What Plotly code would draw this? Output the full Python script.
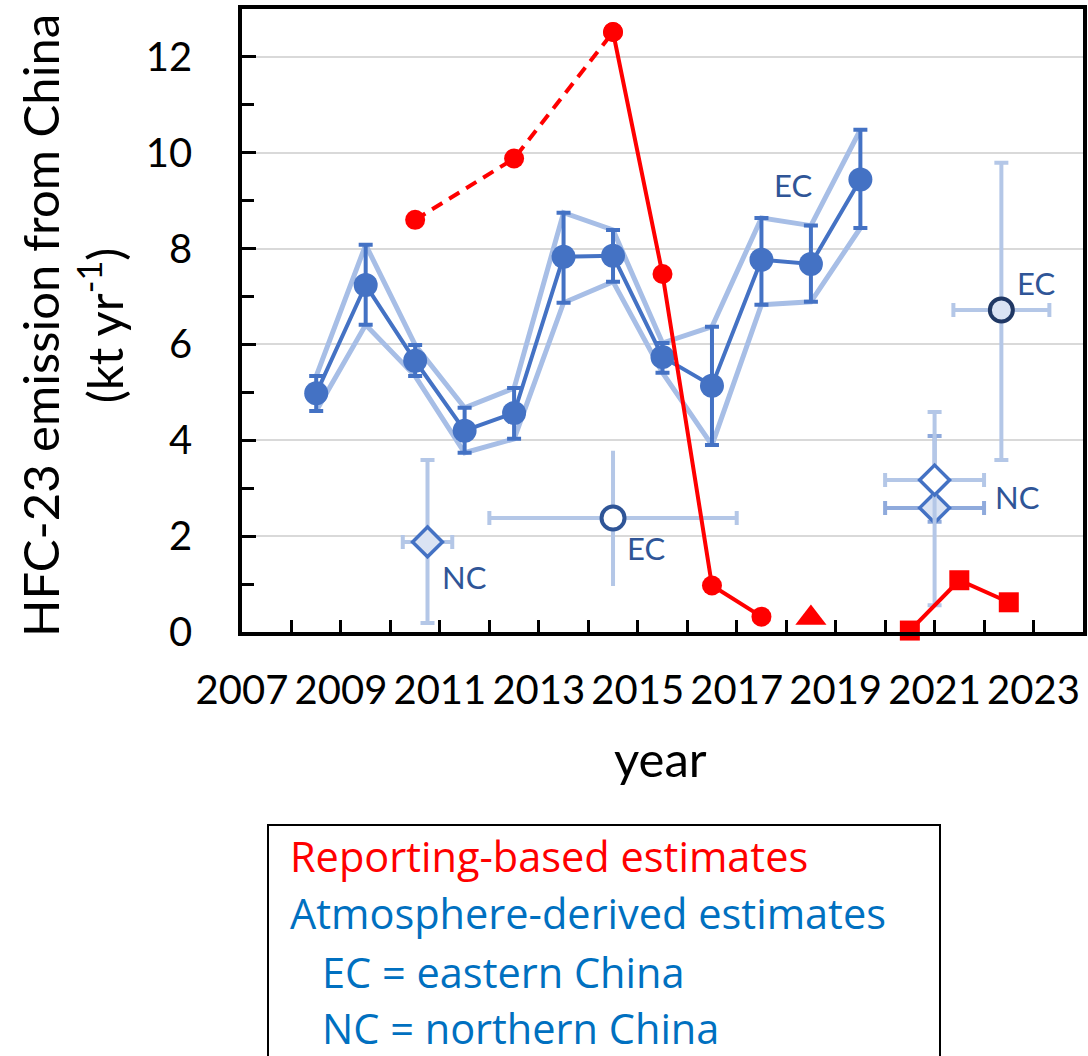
import plotly.graph_objects as go

# ---------------- data ----------------
# Atmosphere-derived estimates (eastern China), with uncertainty bounds
atm_years = [2008.5, 2009.5, 2010.5, 2011.5, 2012.5, 2013.5, 2014.5, 2015.5, 2016.5, 2017.5, 2018.5, 2019.5]
atm_val = [4.98, 7.24, 5.66, 4.20, 4.57, 7.83, 7.85, 5.74, 5.14, 7.77, 7.68, 9.44]
atm_hi = [5.34, 8.08, 5.99, 4.68, 5.09, 8.75, 8.39, 6.03, 6.37, 8.64, 8.48, 10.48]
atm_lo = [4.61, 6.41, 5.34, 3.74, 4.03, 6.87, 7.31, 5.41, 3.90, 6.83, 6.89, 8.43]

# Reporting-based estimates
rep_dash_years = [2010.5, 2012.5, 2014.5]
rep_dash_val = [8.60, 9.88, 12.52]
rep_circ_years = [2014.5, 2015.5, 2016.5, 2017.5]
rep_circ_val = [12.52, 7.47, 0.97, 0.32]
rep_tri_years = [2018.5]
rep_tri_val = [0.29]
rep_sq_years = [2020.5, 2021.5, 2022.5]
rep_sq_val = [0.03, 1.08, 0.62]

# Regional studies (NC = northern China, EC = eastern China)
nc1_x, nc1_y, nc1_xerr, nc1_hi, nc1_lo = [2010.75], [1.88], [0.5], [3.59], [0.19]
ec1_x, ec1_y, ec1_xerr, ec1_hi, ec1_lo = [2014.5], [2.38], [2.5], [3.78], [0.96]
nc2a_x, nc2a_y, nc2a_xerr, nc2a_hi, nc2a_lo = [2021.0], [3.17], [1.0], [4.59], [0.56]
nc2b_x, nc2b_y, nc2b_xerr, nc2b_hi, nc2b_lo = [2021.0], [2.59], [1.0], [4.09], [2.30]
ec2_x, ec2_y, ec2_xerr, ec2_hi, ec2_lo = [2022.35], [6.72], [0.97], [9.79], [3.59]

x_ticks = [2007, 2009, 2011, 2013, 2015, 2017, 2019, 2021, 2023]
y_ticks = [0, 2, 4, 6, 8, 10, 12]

# ---------------- styling ----------------
FONT = "Lato"
LEGFONT = "Open Sans"
BLUE = "#4472c4"
ENV = "#a7bee6"
LIGHT = "#b4c7e7"
MED = "#8faadc"
NAVY = "#2f5597"
DARKNAVY = "#203864"
FILL = "#dae3f3"
RED = "#ff0000"


def up(v, hi):
    return [h - a for a, h in zip(v, hi)]


def dn(v, lo):
    return [a - l for a, l in zip(v, lo)]


fig = go.Figure()


def regional(x, y, xerr, hi, lo, sym, fill, edge, ecol, capy=7):
    fig.add_trace(go.Scatter(
        x=x, y=y, mode="markers", cliponaxis=False, showlegend=False,
        marker=dict(symbol=sym, size=23, color=fill,
                    line=dict(color=edge, width=4 if sym == "circle" else 3.5)),
        error_x=dict(type="data", array=xerr, symmetric=True, color=ecol, thickness=4, width=7),
        error_y=dict(type="data", array=up(y, hi), arrayminus=dn(y, lo), symmetric=False,
                     color=ecol, thickness=4, width=capy),
    ))


regional(nc2b_x, nc2b_y, nc2b_xerr, nc2b_hi, nc2b_lo, "diamond", FILL, BLUE, MED)
regional(nc2a_x, nc2a_y, nc2a_xerr, nc2a_hi, nc2a_lo, "diamond", "white", BLUE, LIGHT)
regional(nc1_x, nc1_y, nc1_xerr, nc1_hi, nc1_lo, "diamond", FILL, BLUE, LIGHT)
regional(ec1_x, ec1_y, ec1_xerr, ec1_hi, ec1_lo, "circle", "white", NAVY, LIGHT, capy=0)
regional(ec2_x, ec2_y, ec2_xerr, ec2_hi, ec2_lo, "circle", FILL, DARKNAVY, LIGHT)

# envelope lines
fig.add_trace(go.Scatter(x=atm_years, y=atm_hi, mode="lines", line=dict(color=ENV, width=5),
                         showlegend=False))
fig.add_trace(go.Scatter(x=atm_years, y=atm_lo, mode="lines", line=dict(color=ENV, width=5),
                         showlegend=False))
# main atmospheric series
fig.add_trace(go.Scatter(
    x=atm_years, y=atm_val, mode="lines+markers", showlegend=False,
    line=dict(color=BLUE, width=4),
    marker=dict(symbol="circle", size=24, color=BLUE),
    error_y=dict(type="data", array=up(atm_val, atm_hi), arrayminus=dn(atm_val, atm_lo),
                 symmetric=False, color=BLUE, thickness=4, width=7),
))

# reporting-based
fig.add_trace(go.Scatter(x=rep_dash_years, y=rep_dash_val, mode="lines+markers", showlegend=False,
                         line=dict(color=RED, width=4, dash="12px,8px"),
                         marker=dict(symbol="circle", size=20, color=RED)))
fig.add_trace(go.Scatter(x=rep_circ_years, y=rep_circ_val, mode="lines+markers", showlegend=False,
                         line=dict(color=RED, width=4),
                         marker=dict(symbol="circle", size=20, color=RED)))
fig.add_trace(go.Scatter(x=rep_tri_years, y=rep_tri_val, mode="markers", showlegend=False,
                         cliponaxis=False,
                         marker=dict(symbol="triangle-up", size=27, color=RED)))
fig.add_trace(go.Scatter(x=rep_sq_years, y=rep_sq_val, mode="lines+markers", showlegend=False,
                         cliponaxis=False, line=dict(color=RED, width=4),
                         marker=dict(symbol="square", size=20, color=RED)))

# region labels
labels = [("EC", 2018.13, 9.33), ("EC", 2023.04, 7.29), ("NC", 2011.5, 1.15),
          ("EC", 2015.16, 1.75), ("NC", 2022.68, 2.82)]
for t, lx, ly in labels:
    fig.add_annotation(x=lx, y=ly, xref="x", yref="y", text=t, showarrow=False,
                       font=dict(family=FONT, size=31, color=NAVY))

# pixel helpers for paper placement
px0, pw, py0, ph = 242, 841, 632, 623


def fx(p):
    return (p - px0) / pw


def fy(p):
    return (py0 - p) / ph


# axis titles
fig.add_annotation(xref="paper", yref="paper", x=fx(72), y=fy(326), xanchor="center", yanchor="middle",
                   textangle=-90,
                   text="HFC-23 emission from China<br>(kt yr<sup>-1</sup>)", showarrow=False,
                   font=dict(family=FONT, size=49, color="black"))
fig.add_annotation(xref="paper", yref="paper", x=fx(660), y=fy(758), xanchor="center", yanchor="middle",
                   text="year", showarrow=False,
                   font=dict(family=FONT, size=49, color="black"))

# legend box
fig.add_shape(type="rect", xref="paper", yref="paper", x0=fx(268), x1=fx(940), y0=fy(825), y1=fy(1075),
              line=dict(color="black", width=2), fillcolor="rgba(0,0,0,0)")
leg = [("Reporting-based estimates", RED, 288, 856),
       ("Atmosphere-derived estimates", "#0070c0", 288, 913),
       ("EC = eastern China", "#0070c0", 320, 972),
       ("NC = northern China", "#0070c0", 320, 1028)]
for t, c, lx, ly in leg:
    fig.add_annotation(xref="paper", yref="paper", x=fx(lx), y=fy(ly), xanchor="left", yanchor="middle",
                       text=t, showarrow=False, font=dict(family=LEGFONT, size=41.5, color=c))

fig.update_layout(
    width=1088, height=1056, paper_bgcolor="white", plot_bgcolor="white",
    margin=dict(l=242, r=5, t=9, b=424, autoexpand=False),
    showlegend=False,
)
fig.update_xaxes(
    range=[2007, 2024], tickmode="array", tickvals=x_ticks, ticktext=[str(v) for v in x_ticks],
    ticks="inside", ticklen=12, tickwidth=3, tickcolor="black",
    minor=dict(dtick=1, tick0=2007, ticks="inside", ticklen=12, tickwidth=3, tickcolor="black", showgrid=False),
    showline=True, linecolor="black", linewidth=3.5, mirror=True,
    showgrid=False, zeroline=False, automargin=False,
    tickfont=dict(family=FONT, size=40, color="black"), ticklabelstandoff=20,
)
fig.update_yaxes(
    range=[0, 13], tickmode="array", tickvals=y_ticks, ticktext=[str(v) for v in y_ticks],
    ticks="inside", ticklen=14, tickwidth=3, tickcolor="black",
    minor=dict(dtick=1, tick0=0, ticks="inside", ticklen=12, tickwidth=3, tickcolor="black", showgrid=False),
    showline=True, linecolor="black", linewidth=3.5, mirror=True,
    showgrid=True, gridcolor="#d9d9d9", gridwidth=2, zeroline=False, automargin=False,
    tickfont=dict(family=FONT, size=40, color="black"), ticklabelstandoff=38,
)

fig.write_html("out.html", config={"displayModeBar": False},
               post_script="document.body.style.margin='0px';document.body.style.overflow='hidden';")
